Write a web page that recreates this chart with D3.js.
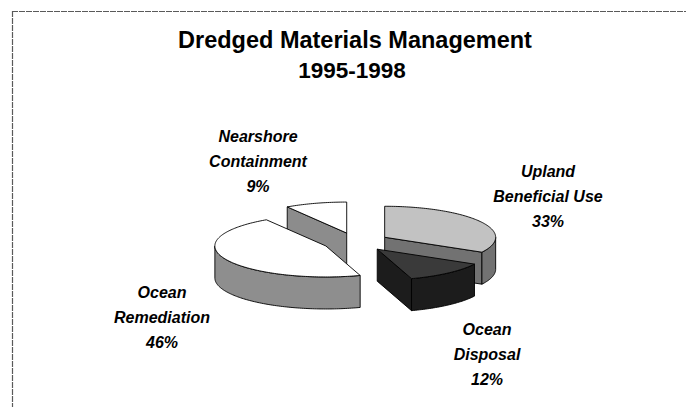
<!DOCTYPE html>
<html>
<head>
<meta charset="utf-8">
<script src="https://cdn.jsdelivr.net/npm/d3@7"></script>
<style>
  html, body { margin: 0; padding: 0; background: #ffffff; }
  svg { display: block; }
</style>
</head>
<body>
<svg id="chart" width="686" height="407"></svg>
<script>
// ---- data ----
const categories = ["Upland Beneficial Use", "Ocean Disposal", "Ocean Remediation", "Nearshore Containment"];
const values = [33, 12, 46, 9];
const labelNameLines = [["Upland", "Beneficial Use"], ["Ocean", "Disposal"], ["Ocean", "Remediation"], ["Nearshore", "Containment"]];
const titleLines = ["Dredged Materials Management", "1995-1998"];

// ---- styles / layout ----
const topFill = ["#c2c2c2", "#3a3a3a", "#ffffff", "#ffffff"];
const sideFill = ["#727272", "#1c1c1c", "#8e8e8e", "#8c8c8c"];
const labelAnchor = [[548, 177], [487, 335], [162, 298], [258, 142]];
const lineGap = 25;

const W = 686, H = 407;
const svg = d3.select("#chart");

// frame
svg.append("line").attr("x1", 12).attr("y1", 11.5).attr("x2", W).attr("y2", 11.5)
  .attr("stroke", "#5a5a5a").attr("stroke-width", 1.2).attr("stroke-dasharray", "6,1");
svg.append("line").attr("x1", 12.5).attr("y1", 11).attr("x2", 12.5).attr("y2", H)
  .attr("stroke", "#5a5a5a").attr("stroke-width", 1.2).attr("stroke-dasharray", "6,1");

// title
svg.append("text").attr("x", 355).attr("y", 48).attr("text-anchor", "middle")
  .attr("font-family", "'Liberation Sans', Arial, sans-serif").attr("font-weight", "bold")
  .attr("font-size", 23.5).attr("fill", "#000").text(titleLines[0]);
svg.append("text").attr("x", 352).attr("y", 78).attr("text-anchor", "middle")
  .attr("font-family", "'Liberation Sans', Arial, sans-serif").attr("font-weight", "bold")
  .attr("font-size", 22.5).attr("fill", "#000").text(titleLines[1]);

// ---- 3D exploded pie ----
const cx = 356, cy = 242, rx = 111, ry = 31, depth = 32, explode = 0.3;
const pie = d3.pie().sort(null).value(d => d).startAngle(0).endAngle(2 * Math.PI);
const arcs = pie(values);

function pt(c, a, r, z) {
  return [c[0] + r * rx * Math.sin(a), c[1] - r * ry * Math.cos(a) + z];
}
function arcPts(c, a0, a1, z) {
  const n = Math.max(2, Math.ceil(Math.abs(a1 - a0) / 0.02));
  const out = [];
  for (let i = 0; i <= n; i++) out.push(pt(c, a0 + (a1 - a0) * i / n, 1, z));
  return out;
}
const line = d3.line();

const slices = arcs.map((d, i) => {
  const mid = (d.startAngle + d.endAngle) / 2;
  const c = [cx + explode * rx * Math.sin(mid), cy - explode * ry * Math.cos(mid)];
  return { d, i, c };
});
slices.sort((a, b) => a.c[1] - b.c[1]);

const g = svg.append("g").attr("stroke", "#000").attr("stroke-width", 0.9).attr("stroke-linejoin", "round");

slices.forEach(s => {
  const { d, i, c } = s;
  const a0 = d.startAngle, a1 = d.endAngle;
  // cut faces
  if (Math.sin(a0) < -1e-6) {
    const p = pt(c, a0, 1, 0);
    g.append("path").attr("fill", sideFill[i])
      .attr("d", line([c, p, [p[0], p[1] + depth], [c[0], c[1] + depth]]) + "Z");
  }
  if (Math.sin(a1) > 1e-6) {
    const p = pt(c, a1, 1, 0);
    g.append("path").attr("fill", sideFill[i])
      .attr("d", line([c, p, [p[0], p[1] + depth], [c[0], c[1] + depth]]) + "Z");
  }
  // outer wall (front half: angles between PI/2 and 3PI/2)
  const s0 = Math.max(a0, Math.PI / 2), s1 = Math.min(a1, 3 * Math.PI / 2);
  if (s1 > s0) {
    const topArc = arcPts(c, s0, s1, 0);
    const botArc = arcPts(c, s1, s0, depth);
    g.append("path").attr("fill", sideFill[i])
      .attr("d", line(topArc.concat(botArc)) + "Z");
  }
  // top face
  const topPts = [c].concat(arcPts(c, a0, a1, 0));
  g.append("path").attr("fill", topFill[i]).attr("d", line(topPts) + "Z");
});

// labels
arcs.forEach((d, i) => {
  const lines = labelNameLines[i].concat([values[i] + "%"]);
  const t = svg.append("text")
    .attr("font-family", "'Liberation Sans', Arial, sans-serif")
    .attr("font-weight", "bold").attr("font-style", "italic")
    .attr("font-size", 16).attr("fill", "#000").attr("text-anchor", "middle");
  lines.forEach((ln, k) => {
    t.append("tspan").attr("x", labelAnchor[i][0]).attr("y", labelAnchor[i][1] + k * lineGap).text(ln);
  });
});
</script>
</body>
</html>
